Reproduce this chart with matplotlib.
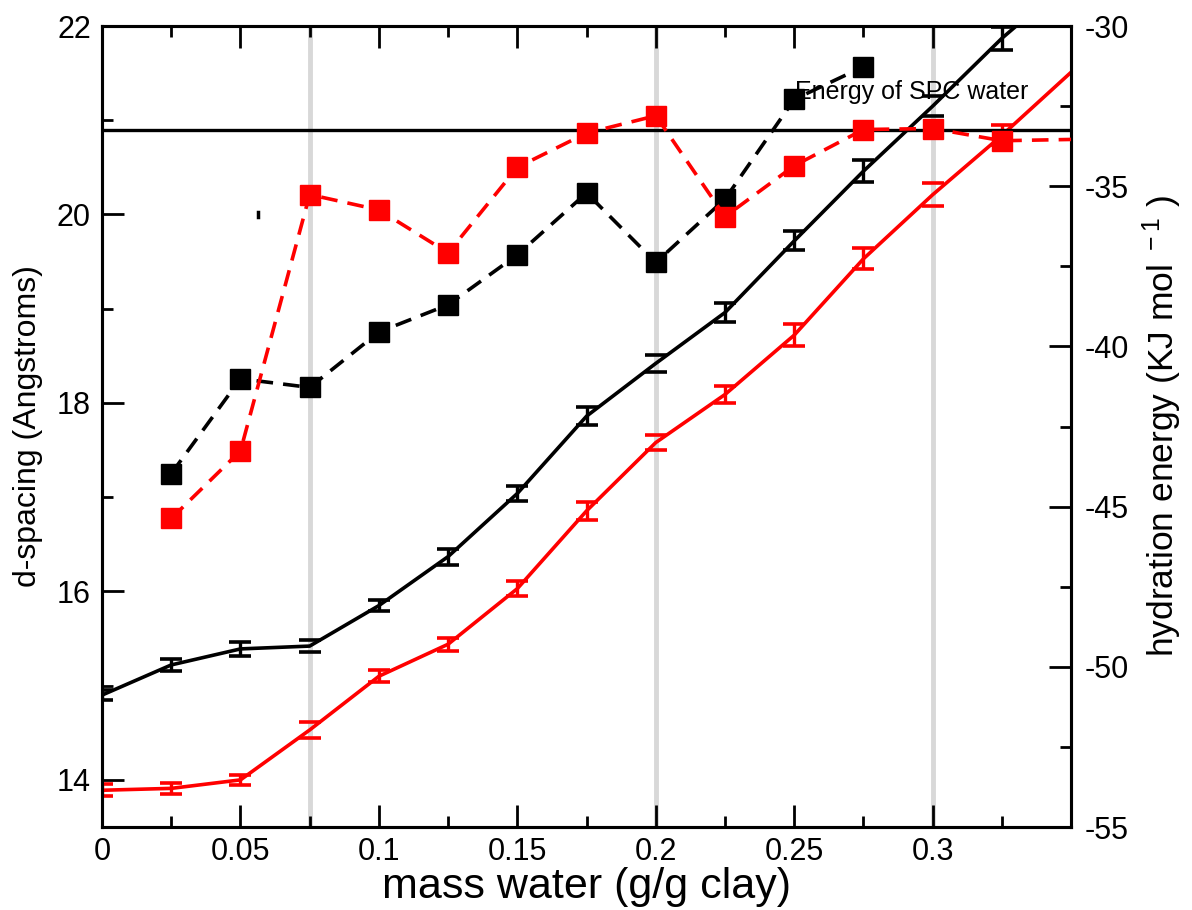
import matplotlib
matplotlib.use("Agg")
import matplotlib.pyplot as plt
from matplotlib.ticker import MultipleLocator, FixedLocator, FuncFormatter

plt.rcParams['axes.unicode_minus'] = False
plt.rcParams['font.family'] = ['Liberation Sans', 'DejaVu Sans']
plt.rcParams['mathtext.fontset'] = 'custom'
plt.rcParams['mathtext.rm'] = 'Liberation Sans'
plt.rcParams['mathtext.default'] = 'rm'

# ---- data ----
mass_water = [0.0, 0.025, 0.05, 0.075, 0.1, 0.125, 0.15, 0.175, 0.2, 0.225, 0.25, 0.275, 0.3, 0.325, 0.35]
dspacing_black = [14.90, 15.22, 15.39, 15.42, 15.85, 16.37, 17.04, 17.86, 18.42, 18.96, 19.72, 20.46, 21.15, 21.87, 22.5]
dspacing_black_err = [0.05, 0.067, 0.07, 0.064, 0.058, 0.085, 0.08, 0.092, 0.09, 0.10, 0.10, 0.115, 0.11, 0.12]
dspacing_red = [13.89, 13.91, 14.00, 14.53, 15.10, 15.44, 16.03, 16.855, 17.58, 18.09, 18.72, 19.53, 20.21, 20.84, 21.51]
dspacing_red_err = [0.062, 0.062, 0.057, 0.083, 0.064, 0.069, 0.083, 0.092, 0.08, 0.088, 0.117, 0.11, 0.124, 0.106]

energy_x_black = [0.025, 0.05, 0.075, 0.1, 0.125, 0.15, 0.175, 0.2, 0.225, 0.25, 0.275]
energy_black = [-43.97, -41.01, -41.28, -39.55, -38.70, -37.14, -35.21, -37.38, -35.40, -32.29, -31.27]
energy_x_red = [0.025, 0.05, 0.075, 0.1, 0.125, 0.15, 0.175, 0.2, 0.225, 0.25, 0.275, 0.3, 0.325, 0.375]
energy_red = [-45.37, -43.26, -35.26, -35.74, -37.08, -34.41, -33.34, -32.80, -35.95, -34.36, -33.23, -33.20, -33.58, -33.50]

spc_water_energy = -33.25
spc_label = "Energy of SPC water"
highlight_x = [0.075, 0.2, 0.3]

fig = plt.figure(figsize=(11.92, 9.10), dpi=100)
ax = fig.add_axes([0.0856, 0.0912, 0.8130, 0.8802])
ax2 = ax.twinx()

# gray reference lines
for xv in highlight_x:
    ax.axvline(xv, color='#d8d8d8', lw=3.5, zorder=1.5)

# d-spacing lines with error bars
for ys, es, c in [(dspacing_black, dspacing_black_err, 'black'), (dspacing_red, dspacing_red_err, 'red')]:
    ax.plot(mass_water, ys, color=c, lw=2.6, zorder=3)
    n = len(es)
    eb = ax.errorbar(mass_water[:n], ys[:n], yerr=es, fmt='none', ecolor=c,
                     elinewidth=2.4, capsize=8, capthick=2.6, zorder=3)
    for bc in eb[2]:
        bc.set_zorder(1)

# stray tick mark in original
ax.plot([0.0565, 0.0565], [19.97, 20.03], color='black', lw=2.5, zorder=3)

ax.set_xlim(0, 0.35)
ax.set_ylim(13.5, 22)
ax2.set_ylim(-55, -30)

# hydration energies
dash = (0, (4.6, 2.8))
ax2.plot(energy_x_black, energy_black, color='black', ls=dash, lw=2.6,
         marker='s', ms=14.5, mec='black', mfc='black', zorder=3)
ax2.plot(energy_x_red, energy_red, color='red', ls=dash, lw=2.6,
         marker='s', ms=14.5, mec='red', mfc='red', zorder=3)
ax2.axhline(spc_water_energy, color='black', lw=2.4, zorder=2)
ax2.text(0.2501, -32.06, spc_label, ha='left', va='center', fontsize=18, zorder=1)

# ticks
ax.xaxis.set_major_locator(FixedLocator([0, 0.05, 0.1, 0.15, 0.2, 0.25, 0.3]))
ax.xaxis.set_minor_locator(FixedLocator([0.025, 0.075, 0.125, 0.175, 0.225, 0.275, 0.325]))
ax.xaxis.set_major_formatter(FuncFormatter(lambda v, p: '%g' % round(v, 3)))
ax.yaxis.set_major_locator(MultipleLocator(2))
ax.yaxis.set_minor_locator(MultipleLocator(1))
ax2.yaxis.set_major_locator(MultipleLocator(5))
ax2.yaxis.set_minor_locator(MultipleLocator(2.5))

ax.tick_params(axis='x', which='both', direction='in', top=True, bottom=True, width=2)
ax.tick_params(axis='y', which='both', direction='in', left=True, right=False, width=2)
ax.tick_params(which='major', length=16, labelsize=22)
ax.tick_params(which='minor', length=8)
ax.tick_params(axis='x', pad=7)
ax.tick_params(axis='y', pad=8)
ax2.tick_params(axis='y', which='both', direction='in', right=True, width=2, pad=10)
ax2.tick_params(which='major', length=16, labelsize=22)
ax2.tick_params(which='minor', length=8)

for a in (ax, ax2):
    for s in a.spines.values():
        s.set_linewidth(2.2)

ax.set_xlabel('mass water (g/g clay)', fontsize=31, labelpad=0)
ax.set_ylabel('d-spacing (Angstroms)', fontsize=23, labelpad=10)
ax2.set_ylabel(r'hydration energy (KJ mol$^{\ -1}$ )', fontsize=25.5, labelpad=8)

fig.savefig('out.png', dpi=100)
